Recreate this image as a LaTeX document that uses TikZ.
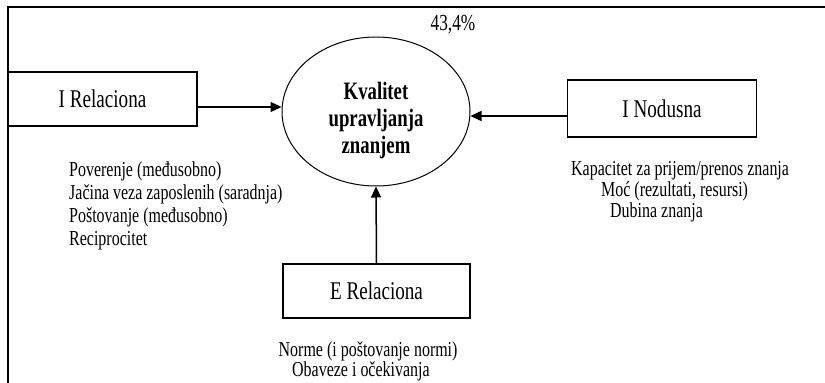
\documentclass[tikz,border=0pt]{standalone}
\usepackage{fontspec}
\setmainfont{Liberation Serif}[FakeStretch=0.75]
\usetikzlibrary{shapes.geometric,arrows.meta}

\tikzset{
  frame/.style={line width=1.5pt},
  factorbox/.style={draw, line width=1.3pt, inner sep=0pt,
    font=\fontsize{25.5}{28}\selectfont},
  goal/.style={draw, ellipse, line width=1pt, inner sep=0pt,
    minimum width=188pt, minimum height=149pt},
  goaltext/.style={align=center, inner sep=0pt,
    font=\fontsize{25}{27}\selectfont\bfseries},
  item/.style={inner sep=0pt, anchor=base west,
    font=\fontsize{21.3}{23}\selectfont},
  arr/.style={line width=1.5pt, -{Triangle[length=11pt,width=10pt]}}
}

\begin{document}
\begin{tikzpicture}[x=1pt,y=-1pt]
\useasboundingbox (0,0) rectangle (825,383);

% open frame: left and top rules
\draw[frame] (8,383) -- (8,7) -- (825,7);

% share label above the centre
\node[inner sep=0pt, anchor=base, font=\fontsize{23}{24}\selectfont]
  (share) at (453,30) {43,4\%};

% central construct
\node[goal] (kq) at (376,111.5) {};
\node[goaltext] (kqt) at (376,120) {Kvalitet\\upravljanja\\znanjem};

% three influencing dimensions
\node[factorbox, minimum width=189pt, minimum height=54pt] (rel) at (102.5,99) {I Relaciona};
\node[factorbox, minimum width=189pt, minimum height=57pt] (nod) at (662,108.5) {I Nodusna};
\node[factorbox, minimum width=187pt, minimum height=54pt] (ext) at (376.5,291) {E Relaciona};

% influences on the central construct
\draw[arr] ([yshift=-8pt]rel.east) -- ([yshift=-8pt]rel.east -| kq.west);
\draw[arr] ([yshift=-7.5pt]nod.west) -- ([yshift=-7.5pt]nod.west -| kq.east);
\draw[arr] (ext.north) -- (kq.south);

% indicators of the internal relational dimension
\node[item] (r1) at (69,176.7) {Poverenje (međusobno)};
\node[item] (r2) at (69,199.5) {Jačina veza zaposlenih (saradnja)};
\node[item] (r3) at (69,222.3) {Poštovanje (međusobno)};
\node[item] (r4) at (69,245) {Reciprocitet};

% indicators of the internal nodal dimension
\node[item] (n1) at (571,175) {Kapacitet za prijem/prenos znanja};
\node[item] (n2) at (601,196) {Moć (rezultati, resursi)};
\node[item] (n3) at (610,217) {Dubina znanja};

% indicators of the external relational dimension
\node[item] (e1) at (278.5,356) {Norme (i poštovanje normi)};
\node[item] (e2) at (292,376) {Obaveze i očekivanja};
\end{tikzpicture}
\end{document}
